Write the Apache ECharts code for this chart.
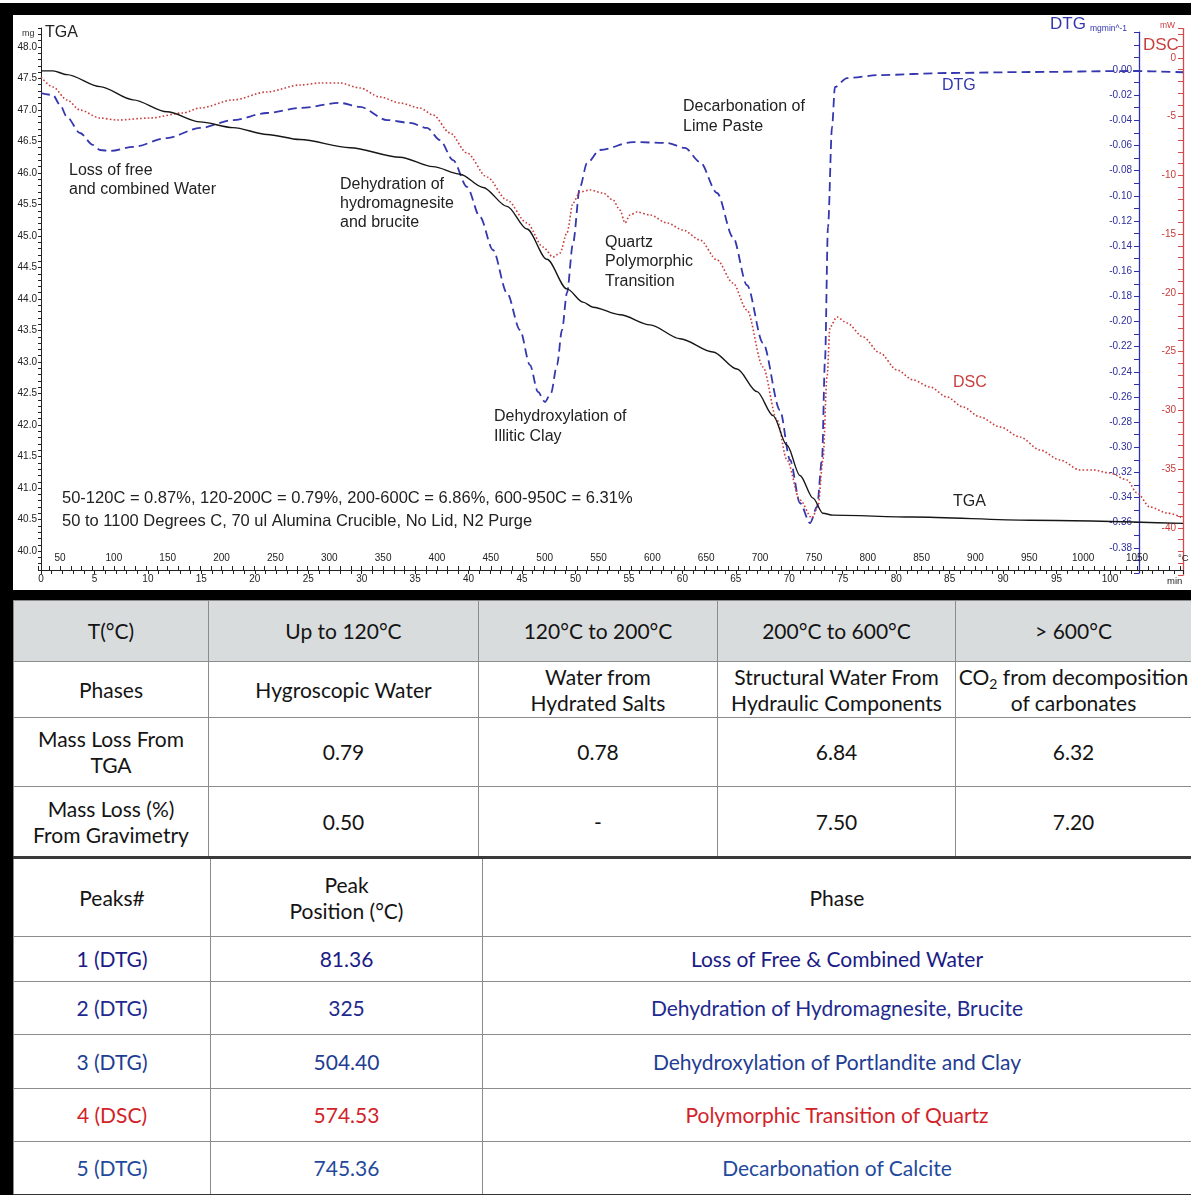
<!DOCTYPE html>
<html><head><meta charset="utf-8">
<script src="https://cdn.jsdelivr.net/npm/echarts@6/dist/echarts.min.js"></script>
<style>
html,body{margin:0;padding:0;background:#fff;overflow:hidden;}
#page{position:relative;width:1191px;height:1195px;background:#fff;overflow:hidden;}
#chart{position:absolute;left:0;top:0;width:1191px;height:600px;}
.band{position:absolute;background:#000;}
table{position:absolute;border-collapse:collapse;table-layout:fixed;font-family:Lato,'Open Sans',sans-serif;font-size:21px;color:#141414;}
td{border:1.5px solid #8c8c8c;text-align:center;vertical-align:middle;padding:0;line-height:26px;overflow:hidden;white-space:nowrap;}
td sub{font-size:14px;line-height:0;vertical-align:-4px;}
#t1 tr:first-child td{background:#d9dcdd;}
#t2{border-top:3px solid #3a3a3a;border-bottom:2.5px solid #333;}
</style></head>
<body><div id="page">
<div id="chart"></div>
<table id="t1"></table>
<table id="t2"></table>
<div class="band" style="left:0;top:3px;width:1191px;height:12px"></div>
<div class="band" style="left:0;top:3px;width:13px;height:1192px"></div>
<div class="band" style="left:0;top:590px;width:1191px;height:10px"></div>
</div>
<script>
// ---------------- DATA (time in min) ----------------
const tgaTime = [0, 1.12, 2.43, 5.52, 8.61, 11.79, 14.87, 17.96, 21.14, 24.23, 28.91, 33.58, 36.67, 39.20, 41.35, 43.59, 45.46, 47.33, 49.20, 50.70, 51.64, 54.16, 56.97, 59.78, 62.86, 65.11, 66.98, 68.48, 69.78, 71.00, 72.22, 73.15, 74.09, 81.57, 92.52, 106.83];
const tgaMass = [47.62, 47.62, 47.56, 47.37, 47.16, 46.97, 46.81, 46.72, 46.61, 46.53, 46.40, 46.25, 46.10, 45.98, 45.77, 45.47, 45.11, 44.63, 44.16, 43.95, 43.87, 43.75, 43.59, 43.37, 43.16, 42.89, 42.53, 42.15, 41.68, 41.20, 40.84, 40.60, 40.57, 40.54, 40.49, 40.44];

const dtgTime = [0, 1.12, 1.78, 2.43, 3.65, 4.86, 5.52, 6.45, 8.61, 11.79, 14.87, 17.96, 21.14, 24.23, 27.97, 29.84, 32.37, 34.52, 36.11, 37.32, 38.54, 39.85, 41.07, 42.28, 43.59, 44.81, 45.74, 46.49, 47.15, 47.71, 48.27, 48.74, 49.20, 49.77, 50.42, 51.08, 52.29, 55.38, 58.56, 60.24, 61.65, 63.24, 64.73, 66.04, 67.54, 69.13, 70.07, 71.00, 71.94, 72.59, 73.06, 73.34, 73.62, 74.00, 74.27, 75.40, 78.48, 84.75, 92.52, 101.87, 106.83];
const dtgRate = [-0.0183, -0.0199, -0.0278, -0.0374, -0.0501, -0.0596, -0.0636, -0.0644, -0.0612, -0.0541, -0.0461, -0.0398, -0.0342, -0.0302, -0.0262, -0.0294, -0.0398, -0.0421, -0.0461, -0.0557, -0.0716, -0.0930, -0.1169, -0.1431, -0.1773, -0.2067, -0.2346, -0.2560, -0.2640, -0.2568, -0.2346, -0.2067, -0.1773, -0.1376, -0.0930, -0.0740, -0.0636, -0.0573, -0.0580, -0.0620, -0.0732, -0.0978, -0.1328, -0.1710, -0.2171, -0.2704, -0.3101, -0.3443, -0.3602, -0.3475, -0.3101, -0.2306, -0.1248, -0.0453, -0.0135, -0.0064, -0.0040, -0.0024, -0.0016, -0.0008, -0.0018];

const dscTime = [0, 1.12, 2.43, 3.65, 5.52, 7.11, 10.20, 13.28, 14.87, 17.96, 21.14, 24.23, 26.10, 27.97, 29.84, 31.71, 33.58, 35.45, 36.67, 38.26, 39.85, 41.72, 43.59, 45.46, 46.96, 47.90, 48.55, 49.20, 49.77, 50.42, 51.36, 52.57, 53.51, 54.16, 54.63, 55.10, 55.75, 56.97, 58.56, 60.06, 61.65, 63.24, 64.73, 66.04, 67.54, 68.85, 69.78, 71.00, 72.12, 72.68, 73.15, 73.53, 73.81, 74.46, 75.40, 76.89, 78.48, 80.07, 81.57, 83.16, 84.75, 86.25, 87.84, 89.71, 91.58, 93.45, 95.32, 97.19, 98.41, 100.00, 101.59, 102.53, 103.74, 105.33, 106.83];
const dscFlow = [-1.62, -2.47, -3.57, -4.43, -5.11, -5.28, -5.11, -4.68, -4.26, -3.57, -2.89, -2.30, -2.13, -2.13, -2.55, -3.32, -3.83, -4.26, -4.85, -6.38, -8.09, -10.13, -12.09, -14.04, -16.09, -16.94, -16.60, -14.89, -12.34, -11.40, -11.23, -11.49, -12.09, -12.94, -14.04, -13.36, -13.11, -13.36, -14.04, -14.64, -15.49, -17.19, -19.15, -21.45, -26.30, -30.81, -34.21, -37.62, -39.15, -38.21, -34.21, -27.15, -22.89, -22.04, -22.55, -23.74, -25.11, -26.55, -27.40, -28.00, -28.85, -29.70, -30.55, -31.40, -32.26, -33.36, -34.21, -35.06, -35.06, -35.32, -35.91, -37.02, -38.21, -38.72, -39.15];

// ---------------- TABLE DATA ----------------
const tempRanges = ['T(°C)', 'Up to 120°C', '120°C to 200°C', '200°C to 600°C', '&gt; 600°C'];
const phaseRow = ['Phases', 'Hygroscopic Water', 'Water from\nHydrated Salts', 'Structural Water From\nHydraulic Components', 'CO<sub>2</sub> from decomposition\nof carbonates'];
const tgaLossRow = ['Mass Loss From\nTGA', '0.79', '0.78', '6.84', '6.32'];
const gravLossRow = ['Mass Loss (%)\nFrom Gravimetry', '0.50', '-', '7.50', '7.20'];
const peakHeader = ['Peaks#', 'Peak\nPosition (°C)', 'Phase'];
const peakLabels = ['1 (DTG)', '2 (DTG)', '3 (DTG)', '4 (DSC)', '5 (DTG)'];
const peakPositions = ['81.36', '325', '504.40', '574.53', '745.36'];
const peakPhases = ['Loss of Free &amp; Combined Water', 'Dehydration of Hydromagnesite, Brucite', 'Dehydroxylation of Portlandite and Clay', 'Polymorphic Transition of Quartz', 'Decarbonation of Calcite'];
const peakColors = ['#1b1b86', '#1e2a8e', '#1f3d93', '#d2232a', '#1f4a9c'];

// ---------------- TABLES ----------------
const br = s => s.split('\n').join('<br>');
(function buildTables(){
  const t1 = document.getElementById('t1');
  t1.style.left = '13px'; t1.style.top = '600px'; t1.style.width = '1178px';
  const w1 = [195, 270, 239, 238, 236];
  const h1 = [61, 56, 69, 71];
  let html = '<colgroup>' + w1.map(w => '<col style="width:' + w + 'px">').join('') + '</colgroup>';
  [tempRanges, phaseRow, tgaLossRow, gravLossRow].forEach((row, ri) => {
    html += '<tr style="height:' + h1[ri] + 'px">' + row.map(c => '<td>' + br(c) + '</td>').join('') + '</tr>';
  });
  t1.innerHTML = html;

  const t2 = document.getElementById('t2');
  t2.style.left = '13px'; t2.style.top = '856px'; t2.style.width = '1178px';
  const w2 = [197, 272, 709];
  const h2 = [79, 45, 53, 54, 53, 53];
  let h = '<colgroup>' + w2.map(w => '<col style="width:' + w + 'px">').join('') + '</colgroup>';
  h += '<tr style="height:' + h2[0] + 'px">' + peakHeader.map(c => '<td>' + br(c) + '</td>').join('') + '</tr>';
  peakLabels.forEach((p, i) => {
    const st = ' style="color:' + peakColors[i] + '"';
    h += '<tr style="height:' + h2[i + 1] + 'px"><td' + st + '>' + p + '</td><td' + st + '>' + peakPositions[i] + '</td><td' + st + '>' + peakPhases[i] + '</td></tr>';
  });
  t2.innerHTML = h;
})();

// ---------------- CHART ----------------
const FONT = "'Liberation Sans', Arial, sans-serif";
const X_MAX = 106.83;
const zip = (a, b) => a.map((v, i) => [v, b[i]]);
const isMult = (v, step) => Math.abs(v / step - Math.round(v / step)) < 1e-6;
const BLUE = '#3437ad', RED = '#c93d3d', DARK = '#222';

const annotations = [
  ['TGA', 45, 33, DARK, 16],
  ['Loss of free', 69, 171, DARK, 16],
  ['and combined Water', 69, 190, DARK, 16],
  ['Dehydration of', 340, 185, DARK, 16],
  ['hydromagnesite', 340, 204, DARK, 16],
  ['and brucite', 340, 223, DARK, 16],
  ['Quartz', 605, 243, DARK, 16],
  ['Polymorphic', 605, 262, DARK, 16],
  ['Transition', 605, 282, DARK, 16],
  ['Decarbonation of', 683, 107, DARK, 16],
  ['Lime Paste', 683, 127, DARK, 16],
  ['Dehydroxylation of', 494, 417, DARK, 16],
  ['Illitic Clay', 494, 437, DARK, 16],
  ['DTG', 942, 86, BLUE, 16],
  ['DSC', 953, 383, RED, 16],
  ['TGA', 953, 502, DARK, 16],
  ['50-120C = 0.87%, 120-200C = 0.79%, 200-600C = 6.86%, 600-950C = 6.31%', 62, 498, DARK, 16.5],
  ['50 to 1100 Degrees C, 70 ul Alumina Crucible, No Lid, N2 Purge', 62, 521, DARK, 16.5],
  ['mg', 22, 34, '#333', 9],
  ['DTG', 1050, 24, BLUE, 17],
  ['mgmin^-1', 1090, 29, BLUE, 8.5],
  ['mW', 1160, 26, RED, 8.5],
  ['DSC', 1143, 45, RED, 17],
  ['min', 1167, 581, DARK, 9.5],
  ['°C', 1178, 558, DARK, 9.5]
];

const chart = echarts.init(document.getElementById('chart'));
const option = {
  animation: false,
  backgroundColor: '#fff',
  textStyle: { fontFamily: FONT },
  grid: [
    { left: 41, right: 8, top: 28, height: 542 },
    { left: 41, right: 8, top: 32.27, height: 540.77 },
    { left: 41, right: 8, top: 28.6, height: 546.4 },
    { left: 38.46, right: 10.9, top: 28, height: 542 }
  ],
  xAxis: [
    { gridIndex: 0, type: 'value', min: 0, max: X_MAX, interval: 1, position: 'bottom',
      axisLine: { onZero: false, lineStyle: { color: DARK, width: 1 } },
      axisTick: { length: 4, lineStyle: { color: DARK } },
      axisLabel: { formatter: v => (isMult(v, 5) && v <= 100.01) ? String(Math.round(v)) : '', fontSize: 10, color: DARK, margin: 4, fontFamily: FONT },
      splitLine: { show: false } },
    { gridIndex: 1, type: 'value', min: 0, max: X_MAX, show: false },
    { gridIndex: 2, type: 'value', min: 0, max: X_MAX, show: false },
    { gridIndex: 3, type: 'value', min: 30, max: 1090, interval: 10, position: 'bottom',
      axisLine: { show: false, onZero: false },
      axisTick: { inside: true, length: 4, lineStyle: { color: DARK } },
      axisLabel: { inside: true, formatter: v => (isMult(v, 50) && v >= 50 && v <= 1050) ? String(Math.round(v)) : '', fontSize: 10, color: DARK, margin: 7, fontFamily: FONT },
      splitLine: { show: false } }
  ],
  yAxis: [
    { gridIndex: 0, type: 'value', min: 39.7, max: 48.3, interval: 0.1, position: 'left',
      axisLine: { show: true, onZero: false, lineStyle: { color: DARK } },
      axisTick: { show: true, length: 3, lineStyle: { color: DARK } },
      axisLabel: { formatter: v => (isMult(v, 0.5) && v > 39.9 && v < 48.1) ? v.toFixed(1) : '', fontSize: 10, color: DARK, margin: 4, fontFamily: FONT },
      splitLine: { show: false } },
    { gridIndex: 1, type: 'value', min: -0.4, max: 0.03, interval: 0.01, position: 'right', offset: -44,
      axisLine: { show: true, onZero: false, lineStyle: { color: '#2b2fb2', width: 1.3 } },
      axisTick: { show: true, inside: true, length: 5, lineStyle: { color: '#2b2fb2' } },
      axisLabel: { inside: true, formatter: v => { const r = Math.round(v * 100); return (r % 2 === 0 && r <= 0 && r >= -38) ? (r === 0 ? '0.00' : (r / 100).toFixed(2)) : ''; }, fontSize: 10, color: '#2e2e9c', margin: 7, fontFamily: FONT },
      splitLine: { show: false } },
    { gridIndex: 2, type: 'value', min: -44, max: 2.5, interval: 1, position: 'right', offset: 0,
      axisLine: { show: true, onZero: false, lineStyle: { color: '#d24a4a', width: 1.3 } },
      axisTick: { show: true, inside: true, length: 5, lineStyle: { color: '#d24a4a' } },
      axisLabel: { inside: true, formatter: v => (isMult(v, 5) && v <= 0 && v >= -40) ? String(Math.round(v)) : '', fontSize: 10, color: '#c83a3a', margin: 7, fontFamily: FONT },
      splitLine: { show: false } },
    { gridIndex: 3, type: 'value', min: 0, max: 1, show: false }
  ],
  series: [
    { name: 'TGA', type: 'line', xAxisIndex: 0, yAxisIndex: 0, data: zip(tgaTime, tgaMass), showSymbol: false, smooth: 0.3, smoothMonotone: 'x',
      lineStyle: { color: '#161616', width: 1.4 }, z: 4 },
    { name: 'DTG', type: 'line', xAxisIndex: 1, yAxisIndex: 1, data: zip(dtgTime, dtgRate), showSymbol: false, smooth: 0.3, smoothMonotone: 'x',
      lineStyle: { color: BLUE, width: 1.8, type: [9, 5] }, z: 3 },
    { name: 'DSC', type: 'line', xAxisIndex: 2, yAxisIndex: 2, data: zip(dscTime, dscFlow), showSymbol: false, smooth: 0.3, smoothMonotone: 'x',
      lineStyle: { color: RED, width: 1.6, type: [1.6, 2.2] }, z: 3 }
  ],
  graphic: annotations.map(a => ({
    type: 'text', x: a[1], y: a[2], z: 10,
    style: { text: a[0], fill: a[3], font: a[4] + 'px ' + FONT, verticalAlign: 'middle', textVerticalAlign: 'middle' }
  }))
};
chart.setOption(option);
</script>
</body></html>
